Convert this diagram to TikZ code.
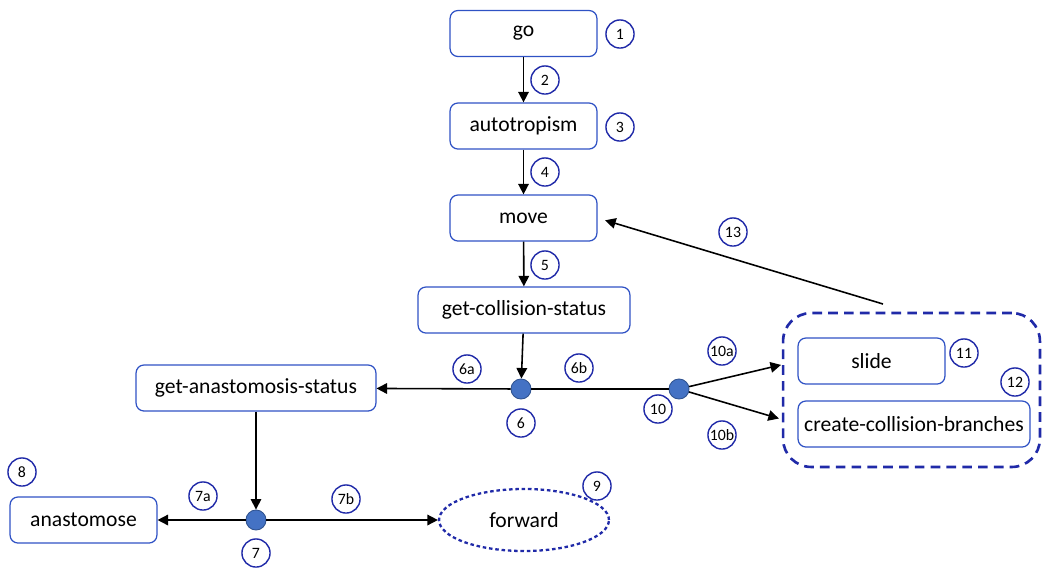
\documentclass[tikz,border=0pt]{standalone}
\usepackage{fontspec}
\setmainfont{Carlito}
\usetikzlibrary{positioning}
\usetikzlibrary{arrows.meta,shapes.geometric}
\definecolor{boxblue}{RGB}{47,82,196}
\definecolor{tagblue}{RGB}{32,42,168}
\definecolor{dotblue}{RGB}{68,114,196}
\definecolor{dotedge}{RGB}{47,82,143}
\tikzstyle{stepbox}=[draw=boxblue,line width=0.7pt,rounded corners=4.5pt,minimum height=26.2pt,inner sep=2pt,font=\fontsize{12.3}{14}\selectfont]
\tikzstyle{tag}=[circle,draw=tagblue,line width=0.8pt,minimum size=16pt,inner sep=0pt,font=\fontsize{9}{10}\selectfont]
\tikzstyle{junction}=[circle,fill=dotblue,draw=dotedge,line width=0.5pt,minimum size=11.4pt,inner sep=0pt]
\tikzstyle{edge} = [draw,line width=0.9pt,-{Triangle[length=6pt,width=6pt]}]
\tikzstyle{plainedge} = [draw,line width=0.9pt]
\tikzstyle{groupbox}=[draw=tagblue,line width=1.5pt,dash pattern=on 5.5pt off 3.5pt,rounded corners=16pt,minimum width=146.2pt,minimum height=87.6pt]
\tikzstyle{optional}=[ellipse,draw=tagblue,line width=1.3pt,dash pattern=on 2pt off 1.6pt,minimum width=96.7pt,minimum height=35.3pt,inner sep=0pt,font=\fontsize{12.3}{14}\selectfont]

\begin{document}
\begin{tikzpicture}[x=0.02cm,y=-0.02cm]
    \useasboundingbox (0,0) rectangle (1045,569);

    \node[groupbox] (group) at (911.5,390) {};

    \foreach \pos/\name/\label/\boxw in {{(523.5,33.5)/go/go/83.6pt}, {(523.5,126)/autotropism/autotropism/83.6pt},
        {(523.5,218)/move/move/83.6pt}, {(524,310)/collision/get-collision-status/120.6pt},
        {(256,388)/anastomosis/get-anastomosis-status/136.5pt}, {(83.5,520)/anastomose/anastomose/83.6pt},
        {(871.5,361)/slide/slide/83.6pt}, {(914,424)/branches/create-collision-branches/132pt}}
        \node[stepbox,minimum width=\boxw] (\name) at \pos {\label};

    \node[optional] (forward) at (524,520) {forward};

    \foreach \pos/\name in {{(521,389)/j6}, {(679,389)/j10}, {(256,520)/j7}}
        \node[junction] (\name) at \pos {};

    \foreach \pos/\name/\label in {{(620,34)/t1/1}, {(545,80)/t2/2}, {(620,127)/t3/3}, {(545,172)/t4/4},
        {(545,265)/t5/5}, {(521,423)/t6/6}, {(467,369)/t6a/6a}, {(579,368)/t6b/6b},
        {(256,553)/t7/7}, {(203,496)/t7a/7a}, {(346,499)/t7b/7b}, {(22,472)/t8/8},
        {(597,486)/t9/9}, {(658,409)/t10/10}, {(722,351)/t10a/10a}, {(722,435)/t10b/10b},
        {(964,353)/t11/11}, {(1015,382)/t12/12}, {(733,232)/t13/13}}
        \node[tag] (\name) at \pos {\label};

    \coordinate (back) at (883,304);

    \foreach \source/ \dest in {go/autotropism, autotropism/move, move/collision, collision/j6,
        j6/anastomosis, anastomosis/j7, j7/anastomose, j7/forward}
        \path[edge] (\source) -- (\dest);

    \path[plainedge] (j6) -- (j10);
    \path[edge,shorten >=9.6pt] (j10) -- (slide.west);
    \path[edge,shorten >=11pt] (j10) -- (branches.west);
    \path[edge,shorten >=4.5pt] (back) -- (move.east);

\end{tikzpicture}
\end{document}
